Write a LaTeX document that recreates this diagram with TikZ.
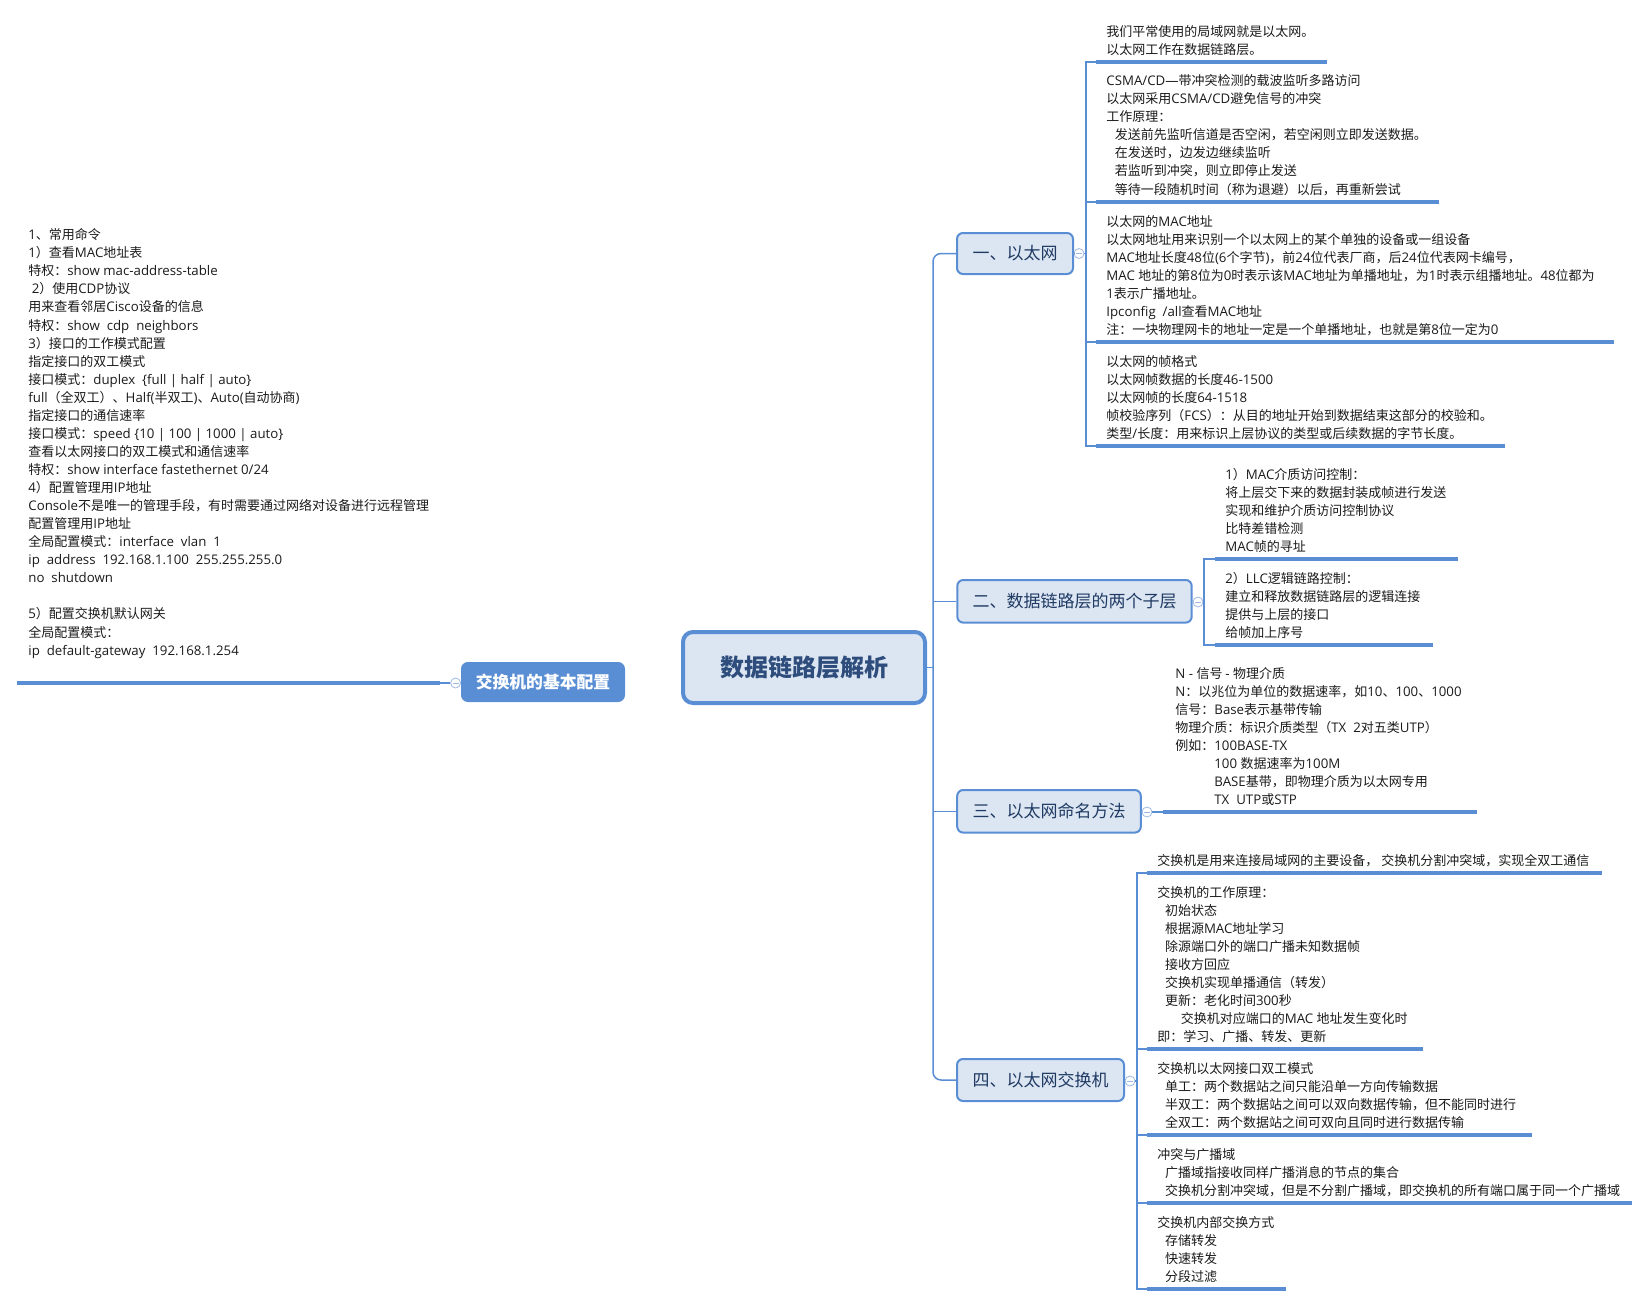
\documentclass[tikz,border=0pt]{standalone}
\usepackage{fontspec}
% Latin text in Open Sans, Chinese text in Noto Sans CJK SC, switched per character class
\setmainfont{Open Sans}[Scale=1.02]
\newfontfamily\latf{Open Sans}[Scale=1.02]
\newfontfamily\cjkf{Noto Sans CJK SC}
\XeTeXinterchartokenstate=1
\chardef\cjkcls=10
\newcount\cc
\newcommand\setcjkrange[2]{\cc=#1\relax
  \loop\XeTeXcharclass\cc=\cjkcls\relax\ifnum\cc<#2\relax\advance\cc by 1\relax\repeat}
\setcjkrange{"3000}{"303F}
\setcjkrange{"4E00}{"9FFF}
\setcjkrange{"FF00}{"FFEF}
\XeTeXinterchartoks 0 \cjkcls = {\cjkf}
\XeTeXinterchartoks 4095 \cjkcls = {\cjkf}
\XeTeXinterchartoks \cjkcls 0 = {\latf}
\XeTeXinterchartoks 4095 0 = {\latf}
\definecolor{lineblue}{HTML}{5A8ED4}
\definecolor{topicfill}{HTML}{DCE6F2}
\definecolor{topictext}{HTML}{1F3A63}
\definecolor{roottext}{HTML}{2E4D7C}
\definecolor{notetext}{HTML}{1A1A1A}
\definecolor{foldblue}{HTML}{9DB9E3}
\newcommand\blk[1]{\begin{tabular}[t]{@{}l@{}}#1\end{tabular}}
\newcommand\ind[1]{\hspace*{#1pt}}
\begin{document}
\begin{tikzpicture}[x=0.5pt,y=-0.5pt,
  conn/.style={draw=lineblue, line width=0.75pt},
  uline/.style={draw=lineblue, line width=1.75pt},
  roottopic/.style={draw=lineblue, line width=2pt, fill=topicfill, rounded corners=5pt,
    inner sep=0pt, text=roottext, font=\fontsize{12}{14}\selectfont\bfseries\cjkf},
  maintopic/.style={draw=lineblue, line width=1pt, fill=topicfill, rounded corners=3pt,
    inner sep=0pt, text=topictext, font=\fontsize{8.5}{10}\selectfont\cjkf},
  sidetopic/.style={draw=lineblue, line width=1pt, fill=lineblue, rounded corners=3pt,
    inner sep=0pt, text=white, font=\fontsize{8.4}{10}\selectfont\bfseries\cjkf},
  note/.style={anchor=base west, inner sep=0pt, text=notetext, font=\fontsize{6.5}{9.03}\selectfont},
  fold/.style={circle, draw=foldblue, fill=white, line width=0.4pt, minimum size=5pt, inner sep=0pt,
    path picture={\draw[foldblue, line width=0.4pt]
      ([xshift=-1.5pt]path picture bounding box.center) -- ([xshift=1.5pt]path picture bounding box.center);}}
]
\useasboundingbox (0,0) rectangle (1650,1306);

% ---------- topics ----------
\node[roottopic, minimum width=121pt, minimum height=35.5pt] (root) at (804,667.5) {数据链路层解析};
\node[maintopic, minimum width=58pt, minimum height=20.5pt] (t1) at (1015,253.5) {一、以太网};
\node[maintopic, minimum width=117.2pt, minimum height=21.3pt] (t2) at (1074.5,601.3) {二、数据链路层的两个子层};
\node[maintopic, minimum width=91.8pt, minimum height=21.3pt] (t3) at (1049,811.3) {三、以太网命名方法};
\node[maintopic, minimum width=83.5pt, minimum height=21pt] (t4) at (1040.5,1080) {四、以太网交换机};
\node[sidetopic, minimum width=81pt, minimum height=19pt] (left) at (543,682) {交换机的基本配置};

% ---------- spine from the root to the four topics ----------
\coordinate (spine) at (933,667.5);
\draw[conn] (root.east) -- (spine);
\draw[conn, rounded corners=4pt] (t1.west) -- (spine |- t1.west) -- (spine |- t4.west) -- (t4.west);
\draw[conn] (spine |- t2.west) -- (t2.west);
\draw[conn] (spine |- t3.west) -- (t3.west);

% ---------- fold markers ----------
\node[fold] (f1) at (1079,253.5) {};
\node[fold] (f2) at (1198,602) {};
\node[fold] (f3) at (1147,812) {};
\node[fold] (f4) at (1130,1081) {};
\node[fold] (fl) at (455.6,683) {};
\draw[conn] (t1.east) -- (f1);
\draw[conn] (t2.east) -- (f2);
\draw[conn] (t3.east) -- (f3);
\draw[conn] (t4.east) -- (f4);
\draw[conn] (left.west) -- (fl);

% ---------- topic 1: Ethernet ----------
\coordinate (b1) at (1086,253.5);
\draw[conn] (f1) -- (b1);
\draw[conn] (1096,62) -- (1086,62) -- (1086,446) -- (1096,446);
\draw[conn] (1086,202) -- (1096,202);
\draw[conn] (1086,342) -- (1096,342);
\draw[uline] (1096,62) -- (1327,62);
\draw[uline] (1096,202) -- (1439,202);
\draw[uline] (1096,342) -- (1614,342);
\draw[uline] (1096,446) -- (1505,446);

\node[note] (n1a) at (1106,36.4) {\blk{我们平常使用的局域网就是以太网。\\
以太网工作在数据链路层。}};
\node[note] (n1b) at (1106,85.7) {\blk{CSMA/CD—带冲突检测的载波监听多路访问\\
以太网采用CSMA/CD避免信号的冲突\\
工作原理：\\
\ind{4.2}发送前先监听信道是否空闲，若空闲则立即发送数据。\\
\ind{4.2}在发送时，边发边继续监听\\
\ind{4.2}若监听到冲突，则立即停止发送\\
\ind{4.2}等待一段随机时间（称为退避）以后，再重新尝试}};
\node[note] (n1c) at (1106,226.4) {\blk{以太网的MAC地址\\
以太网地址用来识别一个以太网上的某个单独的设备或一组设备\\
MAC地址长度48位(6个字节)，前24位代表厂商，后24位代表网卡编号，\\
MAC 地址的第8位为0时表示该MAC地址为单播地址，为1时表示组播地址。48位都为\\
1表示广播地址。\\
Ipconfig\ \ /all查看MAC地址\\
注：一块物理网卡的地址一定是一个单播地址，也就是第8位一定为0}};
\node[note] (n1d) at (1106,366.7) {\blk{以太网的帧格式\\
以太网帧数据的长度46-1500\\
以太网帧的长度64-1518\\
帧校验序列（FCS）：从目的地址开始到数据结束这部分的校验和。\\
类型/长度：用来标识上层协议的类型或后续数据的字节长度。}};

% ---------- topic 2: two sublayers ----------
\coordinate (b2) at (1204,602);
\draw[conn] (f2) -- (b2);
\draw[conn] (1215,559) -- (1204,559) -- (1204,645) -- (1215,645);
\draw[uline] (1215,559) -- (1458,559);
\draw[uline] (1215,645) -- (1433,645);

\node[note] (n2a) at (1225,479.7) {\blk{1）MAC介质访问控制：\\
将上层交下来的数据封装成帧进行发送\\
实现和维护介质访问控制协议\\
比特差错检测\\
MAC帧的寻址}};
\node[note] (n2b) at (1225,583.7) {\blk{2）LLC逻辑链路控制：\\
建立和释放数据链路层的逻辑连接\\
提供与上层的接口\\
给帧加上序号}};

% ---------- topic 3: naming ----------
\draw[conn] (f3) -- (1163,812);
\draw[uline] (1163,812) -- (1477,812);
\node[note] (n3) at (1175,678) {\blk{N - 信号 - 物理介质\\
N：以兆位为单位的数据速率，如10、100、1000\\
信号：Base表示基带传输\\
物理介质：标识介质类型（TX\ \ 2对五类UTP）\\
例如：100BASE-TX\\
\ind{19.5}100 数据速率为100M\\
\ind{19.5}BASE基带，即物理介质为以太网专用\\
\ind{19.5}TX\ \ UTP或STP}};

% ---------- topic 4: switch ----------
\coordinate (b4) at (1137,1081);
\draw[conn] (f4) -- (b4);
\draw[conn] (1147,873) -- (1137,873) -- (1137,1289) -- (1147,1289);
\draw[conn] (1137,1049) -- (1147,1049);
\draw[conn] (1137,1135) -- (1147,1135);
\draw[conn] (1137,1203) -- (1147,1203);
\draw[uline] (1147,873) -- (1602,873);
\draw[uline] (1147,1049) -- (1423,1049);
\draw[uline] (1147,1135) -- (1532,1135);
\draw[uline] (1147,1203) -- (1632,1203);
\draw[uline] (1147,1289) -- (1286,1289);

\node[note] (n4a) at (1157,865.4) {\blk{交换机是用来连接局域网的主要设备，\ 交换机分割冲突域，实现全双工通信}};
\node[note] (n4b) at (1157,897.4) {\blk{交换机的工作原理：\\
\ind{3.8}初始状态\\
\ind{3.8}根据源MAC地址学习\\
\ind{3.8}除源端口外的端口广播未知数据帧\\
\ind{3.8}接收方回应\\
\ind{3.8}交换机实现单播通信（转发）\\
\ind{3.8}更新：老化时间300秒\\
\ind{11.7}交换机对应端口的MAC 地址发生变化时\\
即：学习、广播、转发、更新}};
\node[note] (n4c) at (1157,1073) {\blk{交换机以太网接口双工模式\\
\ind{3.8}单工：两个数据站之间只能沿单一方向传输数据\\
\ind{3.8}半双工：两个数据站之间可以双向数据传输，但不能同时进行\\
\ind{3.8}全双工：两个数据站之间可双向且同时进行数据传输}};
\node[note] (n4d) at (1157,1159.7) {\blk{冲突与广播域\\
\ind{3.8}广播域指接收同样广播消息的节点的集合\\
\ind{3.8}交换机分割冲突域，但是不分割广播域，即交换机的所有端口属于同一个广播域}};
\node[note] (n4e) at (1157,1227.4) {\blk{交换机内部交换方式\\
\ind{3.8}存储转发\\
\ind{3.8}快速转发\\
\ind{3.8}分段过滤}};

% ---------- left topic: basic switch configuration ----------
\draw[conn] (fl) -- (440,683);
\draw[uline] (440,683) -- (17,683);
\node[note] (nl) at (28,239.7) {\blk{1、常用命令\\
1）查看MAC地址表\\
特权：show mac-address-table\\
\ind{1.7}2）使用CDP协议\\
用来查看邻居Cisco设备的信息\\
特权：show\ \ cdp\ \ neighbors\\
3）接口的工作模式配置\\
指定接口的双工模式\\
接口模式：duplex\ \ \{full | half | auto\}\\
full（全双工）、Half(半双工)、Auto(自动协商)\\
指定接口的通信速率\\
接口模式：speed \{10 | 100 | 1000 | auto\}\\
查看以太网接口的双工模式和通信速率\\
特权：show interface fastethernet 0/24\\
4）配置管理用IP地址\\
Console不是唯一的管理手段，有时需要通过网络对设备进行远程管理\\
配置管理用IP地址\\
全局配置模式：interface\ \ vlan\ \ 1\\
ip\ \ address\ \ 192.168.1.100\ \ 255.255.255.0\\
no\ \ shutdown\\
\\
5）配置交换机默认网关\\
全局配置模式：\\
ip\ \ default-gateway\ \ 192.168.1.254}};
\end{tikzpicture}
\end{document}
